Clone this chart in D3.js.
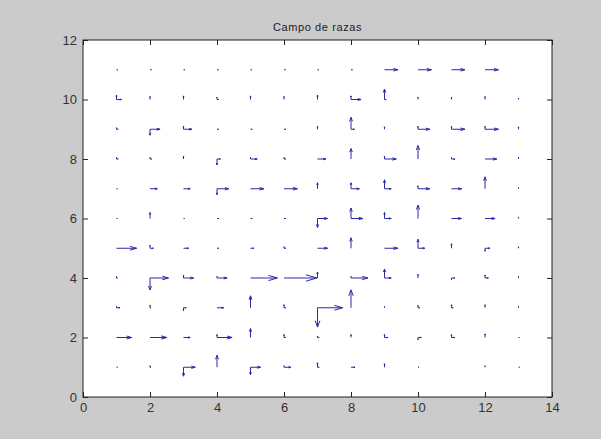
<!DOCTYPE html>
<html>
<head>
<meta charset="utf-8">
<script src="https://cdn.jsdelivr.net/npm/d3@7"></script>
<style>
  html, body { margin: 0; padding: 0; background: #cbcbcb; }
  svg { display: block; }
</style>
</head>
<body>
<svg id="chart" width="601" height="439"></svg>
<script>
// ---- data ----
const chartTitle = "Campo de razas";
const xGrid = [1,2,3,4,5,6,7,8,9,10,11,12,13];
const yGrid = [1,2,3,4,5,6,7,8,9,10,11];
const xTicks = [0,2,4,6,8,10,12,14];
const yTicks = [0,2,4,6,8,10,12];
// horizontal components, one row per y (y = 1 .. 11)
const U = [
  [0.03,0.03,0.35,0,0.3,0.2,0.05,0.12,0,0.03,0,0,0.03],
  [0.45,0.5,0.2,0.45,0,0.05,0.05,0,0.1,0.1,0.1,0,0.03],
  [0.1,0.03,0.08,0.2,0,0.05,0.75,0,0,0.05,0.05,0,0],
  [0.03,0.55,0.3,0.3,0.8,0.98,0,0.5,0.2,0,0.1,0.1,0],
  [0.6,0.1,0.15,0.05,0.1,0.05,0.3,0,0.4,0.2,0,0.15,0],
  [0.03,0,0.03,0.05,0.05,0.05,0.3,0.35,0.2,0,0.3,0.3,0],
  [0.03,0.22,0.2,0.35,0.4,0.4,0,0.25,0.2,0.35,0.3,0,0],
  [0.05,0.05,0,0.1,0.2,0.05,0.25,0,0.35,0,0.1,0.35,0],
  [0.05,0.3,0.25,0.05,0.05,0.05,0,0.1,0,0.35,0.4,0.4,0],
  [0.15,0,0,0.05,0,0,0,0.3,0.05,0,0,0,0],
  [0.04,0.04,0.04,0.04,0.04,0.04,0.04,0.04,0.4,0.4,0.4,0.4,0]
];
// vertical components, one row per y (y = 1 .. 11)
const V = [
  [0,0.05,-0.3,0.4,-0.25,0.05,0.15,0,0.12,0,0,0.05,0],
  [0,0,0,0.1,0.3,0.1,0.05,0.1,0.1,-0.08,0.1,0.12,0],
  [0.05,0.08,-0.1,0,0.4,0.1,-0.65,0.6,0.05,0.08,0.1,0.1,0.05],
  [0.05,-0.4,0.1,0.05,0,0,0.2,0.05,0.3,0.12,-0.05,0.1,0.05],
  [0,0.1,0,0,0,0.05,0,0.35,0,0.3,0.15,-0.1,0.05],
  [0,0.2,0,0,0,0,-0.3,0.35,0.2,0.45,0,0,0.05],
  [0,0,0,-0.2,0,0,0.2,0.2,0.3,0.1,0,0.4,0.05],
  [0.05,0.05,0.1,-0.2,0.05,0.05,0,0.35,0.1,0.45,0.05,0,0.05],
  [0.05,-0.2,0.1,0,0,0,0.1,0.4,0.08,0.1,0.1,0.1,0.08],
  [0.15,0.1,0.12,0.08,0.12,0.1,0.15,0.12,0.35,0.08,0.08,0.1,0.05],
  [0,0,0,0,0,0,0,0,0,0,0,0,0]
];

// ---- layout ----
const svg = d3.select("#chart");
const x = d3.scaleLinear().domain([0,14]).range([83,552]);
const y = d3.scaleLinear().domain([0,12]).range([397,40]);
const color = "#2a2aa6";

svg.append("rect").attr("x", x(0)).attr("y", y(12))
  .attr("width", x(14)-x(0)).attr("height", y(0)-y(12))
  .attr("fill", "#ffffff");

// quiver segments (MATLAB style arrowheads, alpha = beta = 0.33)
const alpha = 0.33, beta = 0.33;
const segs = [];
yGrid.forEach((yy, j) => {
  xGrid.forEach((xx, i) => {
    const comps = [[U[j][i], 0], [0, V[j][i]]];
    comps.forEach(([u, v]) => {
      if (u === 0 && v === 0) return;
      segs.push({x0: xx, y0: yy, x1: xx+u, y1: yy+v, u, v});
    });
  });
});
const path = d3.path();
segs.forEach(s => {
  path.moveTo(x(s.x0), y(s.y0));
  path.lineTo(x(s.x1), y(s.y1));
  const hx1 = s.x1 - alpha*(s.u + beta*s.v), hy1 = s.y1 - alpha*(s.v - beta*s.u);
  const hx2 = s.x1 - alpha*(s.u - beta*s.v), hy2 = s.y1 - alpha*(s.v + beta*s.u);
  path.moveTo(x(hx1), y(hy1));
  path.lineTo(x(s.x1), y(s.y1));
  path.lineTo(x(hx2), y(hy2));
});
svg.append("path").attr("d", path.toString())
  .attr("fill", "none").attr("stroke", color).attr("stroke-width", 1);

// axes (ticks inside on all four sides)
const font = "Liberation Sans, Arial, sans-serif";
function styleAxis(g) {
  g.select(".domain").remove();
  g.selectAll(".tick line").attr("stroke", "#222");
  g.selectAll(".tick text").attr("fill", "#333").attr("font-size", 13).attr("font-family", font);
}
svg.append("g").attr("transform", `translate(0,${y(0)})`)
  .call(d3.axisBottom(x).tickValues(xTicks).tickSize(-5).tickPadding(6).tickFormat(d3.format("d")))
  .call(styleAxis);
svg.append("g").attr("transform", `translate(0,${y(12)})`)
  .call(d3.axisTop(x).tickValues(xTicks).tickSize(-5).tickFormat(""))
  .call(styleAxis);
svg.append("g").attr("transform", `translate(${x(0)},0)`)
  .call(d3.axisLeft(y).tickValues(yTicks).tickSize(-5).tickPadding(6).tickFormat(d3.format("d")))
  .call(styleAxis);
svg.append("g").attr("transform", `translate(${x(14)},0)`)
  .call(d3.axisRight(y).tickValues(yTicks).tickSize(-5).tickFormat(""))
  .call(styleAxis);

svg.append("rect").attr("x", x(0)).attr("y", y(12))
  .attr("width", x(14)-x(0)).attr("height", y(0)-y(12))
  .attr("fill", "none").attr("stroke", "#222").attr("stroke-width", 1);

svg.append("text").attr("x", (x(0)+x(14))/2).attr("y", 31)
  .attr("text-anchor", "middle").attr("font-size", 11).attr("font-family", font)
  .attr("letter-spacing", 0.6).attr("fill", "#222").text(chartTitle);
</script>
</body>
</html>
